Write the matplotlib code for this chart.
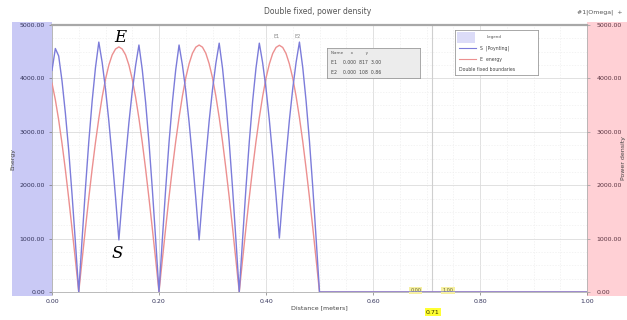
import matplotlib
matplotlib.use('Agg')
import matplotlib.pyplot as plt
from matplotlib.patches import Rectangle
from matplotlib.ticker import MultipleLocator, FormatStrFormatter

# ---- data ----
position = [0.0, 0.00625, 0.0125, 0.01875, 0.025, 0.03125, 0.0375, 0.04375, 0.05,
            0.05625, 0.0625, 0.06875, 0.075, 0.08125, 0.0875, 0.09375, 0.1, 0.10625,
            0.1125, 0.11875, 0.125, 0.13125, 0.1375, 0.14375, 0.15, 0.15625, 0.1625,
            0.16875, 0.175, 0.18125, 0.1875, 0.19375, 0.2, 0.20625, 0.2125, 0.21875,
            0.225, 0.23125, 0.2375, 0.24375, 0.25, 0.25625, 0.2625, 0.26875, 0.275,
            0.28125, 0.2875, 0.29375, 0.3, 0.30625, 0.3125, 0.31875, 0.325, 0.33125,
            0.3375, 0.34375, 0.35, 0.35625, 0.3625, 0.36875, 0.375, 0.38125, 0.3875,
            0.39375, 0.4, 0.40625, 0.4125, 0.41875, 0.425, 0.43125, 0.4375, 0.44375,
            0.45, 0.45625, 0.4625, 0.46875, 0.475, 0.48125, 0.4875, 0.49375, 0.5,
            0.6, 0.7, 0.8, 0.9, 1.0]

series_S = [4150, 4560, 4420, 3950, 3350, 2650, 1820, 930, 0,
            990, 1940, 2810, 3570, 4200, 4680,
            4300, 3800, 3200, 2510, 1770, 975,
            1760, 2490, 3170, 3760, 4240, 4625,
            4160, 3550, 2800, 1930, 985, 0,
            985, 1930, 2800, 3550, 4160, 4625,
            4250, 3770, 3180, 2500, 1760, 975,
            1770, 2510, 3200, 3790, 4280, 4660,
            4190, 3560, 2810, 1940, 990, 0,
            990, 1940, 2810, 3570, 4190, 4660,
            4290, 3810, 3220, 2540, 1800, 1010,
            1800, 2540, 3220, 3810, 4300, 4680,
            4200, 3570, 2820, 1950, 990, 0,
            0, 0, 0, 0, 0]

series_E = [3910, 3600, 3220, 2780, 2290, 1750, 1180, 600, 0,
            600, 1190, 1760, 2300, 2800, 3250, 3650, 3985, 4250, 4440, 4550, 4590,
            4550, 4440, 4250, 3985, 3650, 3250, 2800, 2300, 1760, 1190, 600, 0,
            605, 1200, 1775, 2315, 2820, 3270, 3670, 4010, 4275, 4470, 4585, 4625,
            4585, 4470, 4275, 4010, 3670, 3270, 2820, 2315, 1775, 1200, 605, 0,
            605, 1200, 1770, 2310, 2815, 3265, 3665, 4005, 4270, 4465, 4580, 4620,
            4580, 4465, 4270, 4005, 3665, 3265, 2815, 2310, 1770, 1200, 605, 0,
            0, 0, 0, 0, 0]

x_ticks = [0.0, 0.2, 0.4, 0.6, 0.8, 1.0]
y_ticks = [0, 1000, 2000, 3000, 4000, 5000]
cursor_x = 0.71
title = "Double fixed, power density"
x_label = "Distance [meters]"

# ---- figure ----
W, H = 627, 320
fig = plt.figure(figsize=(W / 100, H / 100), dpi=100)

def fx(px):
    return px / W

def fy(py):
    return 1 - py / H

# side bands (drawn beneath everything)
fig.patches.append(Rectangle((fx(12), fy(296)), fx(52) - fx(12), fy(22) - fy(296),
                             transform=fig.transFigure, facecolor='#c9c9f5',
                             edgecolor='none', zorder=-5))
fig.patches.append(Rectangle((fx(587), fy(296)), fx(627) - fx(587), fy(22) - fy(296),
                             transform=fig.transFigure, facecolor='#ffd0d5',
                             edgecolor='none', zorder=-5))

ax = fig.add_axes([fx(52), fy(292), fx(587) - fx(52), fy(25) - fy(292)])
ax.set_facecolor('white')
ax.set_xlim(0, 1)
ax.set_ylim(0, 5000)

ax.xaxis.set_minor_locator(MultipleLocator(0.05))
ax.yaxis.set_minor_locator(MultipleLocator(250))
ax.set_xticks(x_ticks)
ax.set_yticks(y_ticks)
ax.xaxis.set_major_formatter(FormatStrFormatter('%.2f'))
ax.yaxis.set_major_formatter(FormatStrFormatter('%.2f'))
ax.grid(which='major', color='#dcdcdc', lw=0.6)
ax.grid(which='minor', color='#efefef', lw=0.5, ls=(0, (2, 2)))
ax.set_axisbelow(True)

ax.tick_params(axis='both', which='major', labelsize=4.5, colors='#777777',
               labelcolor='#33335a', length=2, pad=3, width=0.5)
ax.tick_params(axis='both', which='minor', length=0)

for s in ['left', 'right', 'bottom']:
    ax.spines[s].set_color('#b0b0b0')
    ax.spines[s].set_linewidth(0.6)
ax.spines['top'].set_color('#a8a8a8')
ax.spines['top'].set_linewidth(1.6)

ax.plot(position, series_E, color='#ec9090', lw=1.0, zorder=3)
ax.plot(position, series_S, color='#7c7cda', lw=1.0, zorder=4)

# cursor
ax.axvline(cursor_x, color='#cfcfcf', lw=0.8, zorder=2)

# annotations
ax.text(0.127, 4760, 'E', family='DejaVu Serif', style='italic', fontsize=12,
        ha='center', va='center', color='black')
ax.text(0.121, 730, 'S', family='DejaVu Serif', style='italic', fontsize=12,
        ha='center', va='center', color='black')
ax.text(0.420, 4790, 'E1', fontsize=3.5, ha='center', va='center', color='#888888')
ax.text(0.460, 4790, 'E2', fontsize=3.5, ha='center', va='center', color='#888888')

ybox = dict(boxstyle='square,pad=0.25', facecolor='#f6f0a0', edgecolor='none')
ax.text(0.68, 30, '0.00', fontsize=3.5, ha='center', va='center', color='#666633', bbox=ybox)
ax.text(0.74, 30, '1.00', fontsize=3.5, ha='center', va='center', color='#666633', bbox=ybox)

ax.set_xlabel(x_label, fontsize=4.5, color='#444444', labelpad=1)
ax.set_ylabel('Energy', fontsize=4.5, color='#444444')
ax.yaxis.set_label_coords((15 - 52) / 535, 0.5)

# right axis
ax2 = ax.twinx()
ax2.set_ylim(0, 5000)
ax2.set_yticks(y_ticks)
ax2.yaxis.set_major_formatter(FormatStrFormatter('%.2f'))
ax2.tick_params(axis='y', labelsize=4.5, labelcolor='#5a3340', colors='#999999',
                length=2, pad=5, width=0.5)
ax2.set_ylabel('Power density', fontsize=4.5, color='#444444', rotation=90)
ax2.yaxis.set_label_coords(1 + (621 - 587) / 535, 0.5)
for s in ax2.spines.values():
    s.set_visible(False)

# table box
tab = fig.add_axes([fx(327), fy(78), fx(420) - fx(327), fy(48) - fy(78)])
tab.set_xlim(0, 1); tab.set_ylim(0, 1)
tab.set_xticks([]); tab.set_yticks([])
tab.set_facecolor('#ececec')
for s in tab.spines.values():
    s.set_color('#9a9a9a'); s.set_linewidth(0.6)
tab.text(0.04, 0.82, 'Name      x          y', fontsize=3, color='#555555', va='center')
tab.text(0.04, 0.5, 'E1    0.000  817  3.00', fontsize=3.3, color='#444444', va='center')
tab.text(0.04, 0.2, 'E2    0.000  108  0.86', fontsize=3.3, color='#444444', va='center')

# legend box
leg = fig.add_axes([fx(455), fy(75), fx(538) - fx(455), fy(30) - fy(75)])
leg.set_xticks([]); leg.set_yticks([])
leg.set_facecolor('white')
for s in leg.spines.values():
    s.set_color('#9a9a9a'); s.set_linewidth(0.6)
leg.add_patch(Rectangle((0.02, 0.72), 0.22, 0.24, transform=leg.transAxes,
                        facecolor='#dcdcf8', edgecolor='none'))
leg.text(0.38, 0.85, 'Legend', fontsize=3, color='#555555', va='center',
         transform=leg.transAxes)
leg.plot([0.05, 0.25], [0.6, 0.6], color='#7c7cda', lw=0.8, transform=leg.transAxes)
leg.text(0.3, 0.6, 'S  |Poynting|', fontsize=3.3, color='#444444', va='center',
         transform=leg.transAxes)
leg.plot([0.05, 0.25], [0.35, 0.35], color='#ec9090', lw=0.8, transform=leg.transAxes)
leg.text(0.3, 0.35, 'E  energy', fontsize=3.3, color='#444444', va='center',
         transform=leg.transAxes)
leg.text(0.05, 0.12, 'Double fixed boundaries', fontsize=3.3, color='#444444',
         va='center', transform=leg.transAxes)
leg.set_xlim(0, 1); leg.set_ylim(0, 1)

# titles
fig.text(fx(318), fy(12), title, fontsize=5.5, color='#555555', ha='center', va='center')
fig.text(fx(600), fy(12), '#1|Omega|  +', fontsize=4.5, color='#555555', ha='center', va='center')

# cursor value label
fig.text(fx(433), fy(312), '0.71', fontsize=4.5, color='#333300', ha='center', va='center',
         bbox=dict(boxstyle='square,pad=0.2', facecolor='#ffff33', edgecolor='none'))

fig.savefig('out.png', dpi=100)
